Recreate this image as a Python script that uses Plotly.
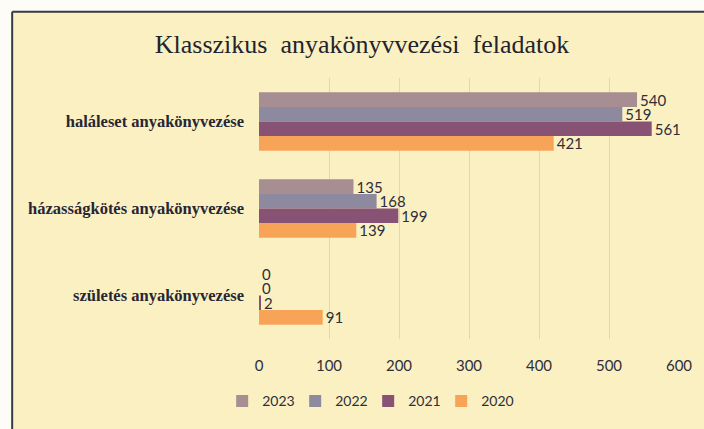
import plotly.graph_objects as go

categories = ["haláleset anyakönyvezése", "házasságkötés anyakönyvezése", "születés anyakönyvezése"]
years = ["2023", "2022", "2021", "2020"]
v2023 = [540, 135, 0]
v2022 = [519, 168, 0]
v2021 = [561, 199, 2]
v2020 = [421, 139, 91]
x_ticks = [0, 100, 200, 300, 400, 500, 600]

series = [v2023, v2022, v2021, v2020]
colors = ["#A68E92", "#8D8AA0", "#875274", "#F7A458"]

W, H = 704, 429
L, R, T, B = 259, 681, 78, 342


def px(xp):
    return (xp - L) / (R - L)


def py(yp):
    return (B - yp) / (B - T)


fig = go.Figure()
for name, vals, col in zip(years, series, colors):
    fig.add_trace(go.Bar(
        y=categories, x=vals, name=name, orientation="h",
        marker=dict(color=col, line=dict(width=0)),
        text=[str(v) for v in vals], textposition="outside",
        textfont=dict(family="Lato, Open Sans, sans-serif", size=15, color="#2e2e3a"),
        cliponaxis=False, constraintext="none",
    ))

CREAM = "#FAF0C2"
# white scan margin outside the chart frame (left and top)
fig.add_shape(type="rect", xref="paper", yref="paper", x0=px(-20), x1=px(11),
              y0=py(480), y1=py(-20), fillcolor="#FDFCF6", line=dict(width=0), layer="below")
fig.add_shape(type="rect", xref="paper", yref="paper", x0=px(-20), x1=px(760),
              y0=py(11), y1=py(-20), fillcolor="#FDFCF6", line=dict(width=0), layer="below")
# frame lines
fig.add_shape(type="line", xref="paper", yref="paper", x0=px(11), x1=px(11),
              y0=py(480), y1=py(11), line=dict(color="#3a3a44", width=2), layer="below")
fig.add_shape(type="line", xref="paper", yref="paper", x0=px(11), x1=px(760),
              y0=py(11), y1=py(11), line=dict(color="#3a3a44", width=2), layer="below")

fig.update_layout(
    width=W, height=H,
    margin=dict(l=L, r=W - R, t=T, b=H - B),
    paper_bgcolor=CREAM, plot_bgcolor="rgba(0,0,0,0)",
    barmode="group", bargap=0.33, bargroupgap=0,
    title=dict(text="Klasszikus  anyakönyvvezési  feladatok",
               x=362 / W, xanchor="center",
               y=1 - 44 / H, yanchor="middle",
               font=dict(family="Liberation Serif, serif", size=26, color="#23232e")),
    showlegend=True,
    legend=dict(orientation="h", x=px(222), xanchor="left", y=py(405), yanchor="middle",
                font=dict(family="Lato, Open Sans, sans-serif", size=14, color="#2e2e3a"),
                bgcolor="rgba(0,0,0,0)", itemwidth=30, traceorder="normal",
                entrywidth=28, entrywidthmode="pixels"),
    font=dict(family="Lato, sans-serif", color="#2e2e3a"),
)
fig.update_xaxes(range=[0, 600], tickvals=x_ticks, ticktext=[str(t) for t in x_ticks],
                 showgrid=True, gridcolor="#D9D3DC", gridwidth=1, zeroline=False,
                 showline=False, ticklabelstandoff=16,
                 tickfont=dict(family="Lato, Open Sans, sans-serif", size=15, color="#2e2e3a"))
fig.update_yaxes(autorange="reversed", showgrid=False, showline=False, ticklabelstandoff=14,
                 tickvals=categories, ticktext=["<b>" + c + "</b>" for c in categories],
                 tickfont=dict(family="Liberation Serif, serif", size=16.5, color="#262634"))

fig.write_html("out.html", config={"displayModeBar": False},
               post_script="document.body.style.margin='0';document.body.style.overflow='hidden';")
